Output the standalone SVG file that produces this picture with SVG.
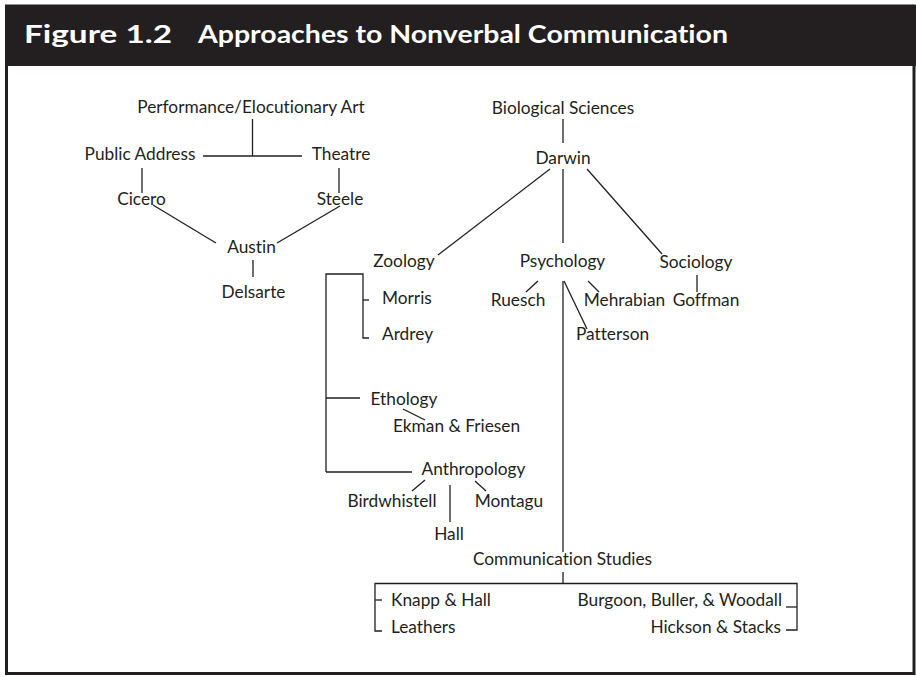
<svg xmlns="http://www.w3.org/2000/svg" width="916" height="677" viewBox="0 0 916 677">
  <style>
    .lbl { font-family: Lato, "Open Sans", "Liberation Sans", sans-serif; font-size: 17.3px; fill: #231f20; font-variant-ligatures: none; }
    .mid { text-anchor: middle; }
    .end { text-anchor: end; }
    .title { font-family: Lato, "Liberation Sans", sans-serif; font-weight: bold; font-size: 25px; fill: #ffffff; font-variant-ligatures: none; }
    #connectors line, #connectors polyline { stroke: #231f20; stroke-width: 1.3; fill: none; }
  </style>

  <!-- page frame and title bar -->
  <rect x="0" y="0" width="916" height="677" fill="#ffffff"/>
  <rect x="6.5" y="6" width="907.5" height="667.5" fill="none" stroke="#231f20" stroke-width="3"/>
  <rect x="5" y="5" width="911" height="61" fill="#231f20"/>
  <g id="title">
    <text class="title" x="24" y="43" textLength="148" lengthAdjust="spacingAndGlyphs">Figure 1.2</text>
    <text class="title" x="198" y="43" textLength="530" lengthAdjust="spacingAndGlyphs">Approaches to Nonverbal Communication</text>
  </g>

  <g id="connectors">
    <!-- performance branch -->
    <line x1="252.5" y1="119" x2="252.5" y2="156"/>
    <line x1="203" y1="156" x2="302" y2="156"/>
    <line x1="142" y1="168" x2="142" y2="193"/>
    <line x1="339" y1="168" x2="339" y2="193"/>
    <line x1="153" y1="205" x2="216" y2="243"/>
    <line x1="340" y1="206" x2="277" y2="243"/>
    <line x1="253" y1="260" x2="253" y2="277"/>
    <!-- biological branch -->
    <line x1="563" y1="119" x2="563" y2="143"/>
    <line x1="550" y1="169" x2="438" y2="255"/>
    <line x1="563" y1="169" x2="563" y2="243"/>
    <line x1="587" y1="169" x2="662" y2="254"/>
    <!-- zoology bracket -->
    <polyline points="326,472 326,274 363,274 363,338 369,338"/>
    <line x1="363" y1="300" x2="369" y2="300"/>
    <line x1="326" y1="398" x2="360" y2="398"/>
    <line x1="326" y1="472" x2="412" y2="472"/>
    <line x1="403" y1="409" x2="425" y2="420"/>
    <!-- anthropology -->
    <line x1="425" y1="480" x2="412" y2="491"/>
    <line x1="450" y1="485" x2="450" y2="522"/>
    <line x1="475" y1="481" x2="486" y2="491"/>
    <!-- psychology -->
    <line x1="538" y1="281" x2="526" y2="292"/>
    <line x1="563" y1="281" x2="563" y2="552"/>
    <line x1="564" y1="281" x2="587" y2="329"/>
    <line x1="588" y1="281" x2="599" y2="292"/>
    <!-- sociology -->
    <line x1="697" y1="275" x2="697" y2="292"/>
    <!-- communication studies bracket -->
    <line x1="563" y1="572" x2="563" y2="583.5"/>
    <polyline points="382,631 375,631 375,583.5 797,583.5 797,630 786,630"/>
    <line x1="375" y1="600" x2="382" y2="600"/>
    <line x1="786" y1="607" x2="797" y2="607"/>
  </g>

  <g id="performance"><text class="lbl mid" x="251" y="113">Performance/Elocutionary Art</text></g>
  <g id="public-address"><text class="lbl mid" x="140" y="160">Public Address</text></g>
  <g id="theatre"><text class="lbl mid" x="341" y="160">Theatre</text></g>
  <g id="cicero"><text class="lbl mid" x="141.5" y="205">Cicero</text></g>
  <g id="steele"><text class="lbl mid" x="340" y="205">Steele</text></g>
  <g id="austin"><text class="lbl mid" x="251.5" y="253">Austin</text></g>
  <g id="delsarte"><text class="lbl mid" x="253.5" y="298">Delsarte</text></g>

  <g id="biological"><text class="lbl mid" x="563" y="114">Biological Sciences</text></g>
  <g id="darwin"><text class="lbl mid" x="563" y="164">Darwin</text></g>
  <g id="zoology"><text class="lbl mid" x="404" y="267">Zoology</text></g>
  <g id="psychology"><text class="lbl mid" x="562.5" y="267">Psychology</text></g>
  <g id="sociology"><text class="lbl mid" x="696" y="268">Sociology</text></g>

  <g id="morris"><text class="lbl" x="382" y="304">Morris</text></g>
  <g id="ardrey"><text class="lbl" x="382" y="340">Ardrey</text></g>
  <g id="ruesch"><text class="lbl mid" x="518" y="306">Ruesch</text></g>
  <g id="mehrabian"><text class="lbl mid" x="624.5" y="306">Mehrabian</text></g>
  <g id="goffman"><text class="lbl mid" x="706" y="306">Goffman</text></g>
  <g id="patterson"><text class="lbl mid" x="612.5" y="340">Patterson</text></g>

  <g id="ethology"><text class="lbl mid" x="404" y="405">Ethology</text></g>
  <g id="ekman-friesen"><text class="lbl mid" x="456.5" y="432">Ekman &amp; Friesen</text></g>
  <g id="anthropology"><text class="lbl mid" x="473.5" y="475">Anthropology</text></g>
  <g id="birdwhistell"><text class="lbl mid" x="392" y="507">Birdwhistell</text></g>
  <g id="montagu"><text class="lbl mid" x="509" y="507">Montagu</text></g>
  <g id="hall"><text class="lbl mid" x="449" y="540">Hall</text></g>

  <g id="communication"><text class="lbl mid" x="562.5" y="565">Communication Studies</text></g>
  <g id="knapp-hall"><text class="lbl" x="391" y="606">Knapp &amp; Hall</text></g>
  <g id="leathers"><text class="lbl" x="391" y="633">Leathers</text></g>
  <g id="burgoon"><text class="lbl end" x="782" y="606">Burgoon, Buller, &amp; Woodall</text></g>
  <g id="hickson"><text class="lbl end" x="781" y="633">Hickson &amp; Stacks</text></g>
</svg>
